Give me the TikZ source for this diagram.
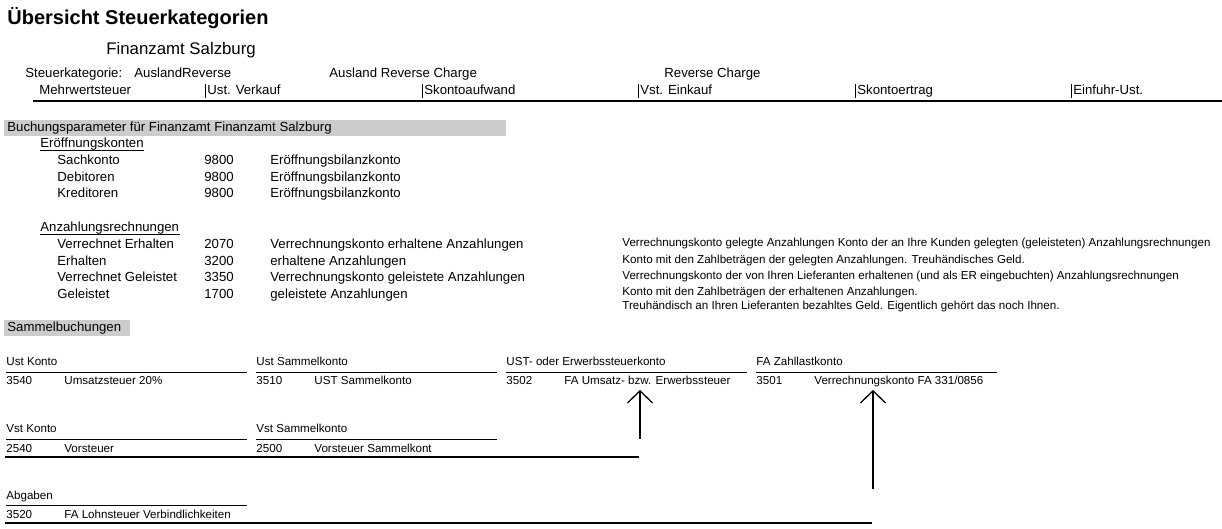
\documentclass[tikz,border=0pt]{standalone}
\usepackage{fontspec}
\setmainfont{Liberation Sans}
\usetikzlibrary{arrows.meta}

\begin{document}
\begin{tikzpicture}[x=.5pt,y=-.5pt,
	txt/.style={anchor=base west,inner sep=0pt,font=\fontsize{6.6}{8}\selectfont},
	klein/.style={txt,font=\fontsize{5.8}{7}\selectfont},
	balken/.style={fill=black!20},
	kontolinie/.style={line width=.9pt},
	pfeil/.style={line width=.65pt,shorten >=2.5pt,-{Straight Barb[length=6pt,width=12.5pt]}}]
	\useasboundingbox (0,0) rectangle (1222,529);
	% Kopf
	\node[txt,font=\fontsize{10}{12}\selectfont\bfseries] (titel) at (7,25) {Übersicht Steuerkategorien};
	\node[txt,font=\fontsize{8.4}{10}\selectfont] (fa) at (106,55) {Finanzamt Salzburg};
	\node[txt] (stkat) at (25,78) {Steuerkategorie:};
	\node[txt] (kurz) at (134,78) {AuslandReverse};
	\node[txt] (lang) at (329,78) {Ausland Reverse Charge};
	\node[txt] (rc) at (664,78) {Reverse Charge};
	\node[txt] (mwst) at (39,95) {Mehrwertsteuer};
	\foreach \x/\t [count=\i] in {205/Ust. Verkauf,422/Skontoaufwand,638/Vst. Einkauf,855/Skontoertrag,1071/Einfuhr-Ust.}{
		\draw[line width=.5pt] (\x,84) -- (\x,98);
		\node[txt] (sp\i) at (\x+2,95) {\t};
	}
	\draw[line width=1pt] (33,101) -- (1222,101);
	% Buchungsparameter
	\fill[balken] (4,120) rectangle (506,136);
	\node[txt] (bp) at (7,131.5) {Buchungsparameter für Finanzamt Finanzamt Salzburg};
	\node[txt] (eroeff) at (40,148) {Eröffnungskonten};
	\draw[line width=.5pt] ([yshift=-1.2pt]eroeff.base west) -- ([yshift=-1.2pt]eroeff.base east);
	\foreach \y/\a/\n/\b [count=\i] in {165/Sachkonto/9800/Eröffnungsbilanzkonto,
		181.5/Debitoren/9800/Eröffnungsbilanzkonto,198/Kreditoren/9800/Eröffnungsbilanzkonto}{
		\node[txt] (e\i) at (57,\y) {\a};
		\node[txt] (e\i-n) at (204,\y) {\n};
		\node[txt] (e\i-b) at (270,\y) {\b};
	}
	\node[txt] (anz) at (40,232) {Anzahlungsrechnungen};
	\draw[line width=.5pt] ([yshift=-1.2pt]anz.base west) -- ([yshift=-1.2pt]anz.base east);
	\foreach \y/\a/\n/\b [count=\i] in {249/Verrechnet Erhalten/2070/Verrechnungskonto erhaltene Anzahlungen,
		265.5/Erhalten/3200/erhaltene Anzahlungen,
		282/Verrechnet Geleistet/3350/Verrechnungskonto geleistete Anzahlungen,
		298.5/Geleistet/1700/geleistete Anzahlungen}{
		\node[txt] (a\i) at (57,\y) {\a};
		\node[txt] (a\i-n) at (204,\y) {\n};
		\node[txt] (a\i-b) at (270,\y) {\b};
	}
	\node[klein] (d1) at (622,247) {Verrechnungskonto gelegte Anzahlungen Konto der an Ihre Kunden gelegten (geleisteten) Anzahlungsrechnungen};
	\node[klein] (d2) at (622,263.5) {Konto mit den Zahlbeträgen der gelegten Anzahlungen. Treuhändisches Geld.};
	\node[klein] (d3) at (622,280) {Verrechnungskonto der von Ihren Lieferanten erhaltenen (und als ER eingebuchten) Anzahlungsrechnungen};
	\node[klein] (d4) at (622,295.5) {Konto mit den Zahlbeträgen der erhaltenen Anzahlungen.};
	\node[klein] (d5) at (622,310) {Treuhändisch an Ihren Lieferanten bezahltes Geld. Eigentlich gehört das noch Ihnen.};
	% Sammelbuchungen
	\fill[balken] (4,320) rectangle (130,336);
	\node[txt] (sb) at (7,332) {Sammelbuchungen};
	\foreach \x/\k/\n/\b/\m in {6/Ust Konto/3540/Umsatzsteuer 20\%/ukto,
		256/Ust Sammelkonto/3510/UST Sammelkonto/usam,
		506/UST- oder Erwerbssteuerkonto/3502/FA Umsatz- bzw. Erwerbssteuer/uerw,
		756/FA Zahllastkonto/3501/Verrechnungskonto FA 331\slash 0856/fazl}{
		\node[klein] (\m) at (\x,365) {\k};
		\draw[kontolinie] (\x,372.5) -- (\x+241,372.5);
		\node[klein] (\m-n) at (\x,385) {\n};
		\node[klein] (\m-b) at (\x+58,385) {\b};
	}
	\foreach \x/\k/\n/\b/\m in {6/Vst Konto/2540/Vorsteuer/vkto,
		256/Vst Sammelkonto/2500/Vorsteuer Sammelkont/vsam}{
		\node[klein] (\m) at (\x,432) {\k};
		\draw[kontolinie] (\x,439.5) -- (\x+241,439.5);
		\node[klein] (\m-n) at (\x,452) {\n};
		\node[klein] (\m-b) at (\x+58,452) {\b};
	}
	\draw[kontolinie] (5,457) -- (639,457);
	\node[klein] (abg) at (6,499) {Abgaben};
	\draw[kontolinie] (6,505.5) -- (247,505.5);
	\node[klein] (abg-n) at (6,518) {3520};
	\node[klein] (abg-b) at (64,518) {FA Lohnsteuer Verbindlichkeiten};
	\draw[kontolinie] (5,523) -- (872,523);
	% Pfeile
	\coordinate (fuss1) at (640,439);
	\coordinate (fuss2) at (873,489);
	\draw[pfeil] (fuss1) -- (fuss1 |- uerw-b.base);
	\draw[pfeil] (fuss2) -- (fuss2 |- fazl-b.base);
\end{tikzpicture}
\end{document}
